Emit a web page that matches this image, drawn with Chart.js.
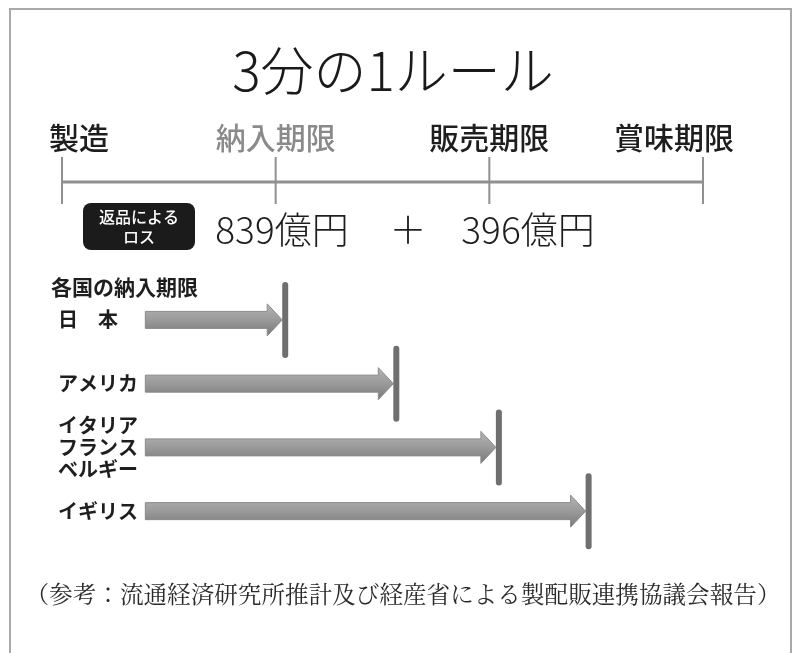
<!DOCTYPE html>
<html>
<head>
<meta charset="utf-8">
<script src="https://cdn.jsdelivr.net/npm/chart.js@4/dist/chart.umd.min.js"></script>
<style>
html,body{margin:0;padding:0;background:#fff;}
#wrap{width:800px;height:653px;position:relative;}
</style>
</head>
<body>
<div id="wrap"><canvas id="c" width="800" height="653"></canvas></div>
<script>
// ---- data ----
const title = '3分の1ルール';
const milestoneLabels = ['製造', '納入期限', '販売期限', '賞味期限'];
const milestoneValues = [0, 1, 2, 3];
const lossLabel = ['返品による', 'ロス'];
const lossAmounts = ['839億円', '396億円'];
const countryHeader = '各国の納入期限';
const countries = ['日　本', 'アメリカ', 'イタリア\nフランス\nベルギー', 'イギリス'];
const arrowStart = [0.39, 0.39, 0.39, 0.39];
const deadlines = [1.04, 1.56, 2.04, 2.46];
const footnote = '（参考：流通経済研究所推計及び経産省による製配販連携協議会報告）';

const JP = '"Noto Sans CJK JP", "Noto Sans", sans-serif';
const JPSERIF = '"Noto Serif CJK JP", "IPAMincho", serif, "Noto Sans CJK JP"';

const decor = {
  id: 'decor',
  beforeDraw(chart) {
    const ctx = chart.ctx;
    ctx.save();
    ctx.fillStyle = '#fff';
    ctx.fillRect(0, 0, chart.width, chart.height);
    ctx.strokeStyle = '#a9a9a9';
    ctx.lineWidth = 2;
    ctx.strokeRect(10, 9, 781, 700);
    ctx.restore();
  },
  afterDatasetsDraw(chart) {
    const ctx = chart.ctx;
    const xs = chart.scales.x;
    const meta = chart.getDatasetMeta(0);
    ctx.save();
    // title
    ctx.fillStyle = '#1a1a1a';
    ctx.textAlign = 'center';
    ctx.textBaseline = 'middle';
    ctx.font = '300 53px ' + JP;
    ctx.fillText(title, 393, 71);

    // timeline
    const lineY = 182;
    ctx.strokeStyle = '#909090';
    ctx.lineWidth = 3;
    ctx.beginPath();
    ctx.moveTo(xs.getPixelForValue(milestoneValues[0]), lineY);
    ctx.lineTo(xs.getPixelForValue(milestoneValues[milestoneValues.length - 1]), lineY);
    ctx.stroke();
    ctx.lineWidth = 2;
    milestoneValues.forEach((v) => {
      const px = xs.getPixelForValue(v);
      ctx.beginPath();
      ctx.moveTo(px, 157);
      ctx.lineTo(px, 204);
      ctx.stroke();
    });
    // milestone labels
    ctx.font = '500 30px ' + JP;
    milestoneValues.forEach((v, i) => {
      const px = xs.getPixelForValue(v);
      ctx.fillStyle = i === 1 ? '#8a8a8a' : '#1e1e1e';
      let cx = px;
      if (i === 0) { ctx.textAlign = 'left'; cx = px - 13; }
      else if (i === 3) { ctx.textAlign = 'right'; cx = px + 31; }
      else { ctx.textAlign = 'center'; cx = px; }
      ctx.fillText(milestoneLabels[i], cx, 138);
    });

    // loss box
    ctx.fillStyle = '#1b1b1b';
    ctx.beginPath();
    ctx.roundRect(83, 203, 112, 47, 8);
    ctx.fill();
    ctx.fillStyle = '#fff';
    ctx.textAlign = 'center';
    ctx.font = '500 16px ' + JP;
    ctx.fillText(lossLabel[0], 139, 217);
    ctx.fillText(lossLabel[1], 139, 237);

    // loss amounts
    ctx.fillStyle = '#1e1e1e';
    ctx.font = '300 37px ' + JP;
    ctx.textAlign = 'center';
    ctx.fillText(lossAmounts[0], 282, 230);
    ctx.fillText('＋', 408, 230);
    ctx.fillText(lossAmounts[1], 528, 230);

    // country header
    ctx.font = '700 21px ' + JP;
    ctx.textAlign = 'left';
    ctx.fillStyle = '#1e1e1e';
    ctx.fillText(countryHeader, 51, 287);

    // arrows & markers
    meta.data.forEach((bar, i) => {
      const y = bar.y;
      const x0 = bar.base;
      const tip = bar.x - 2;
      const headLen = 15;
      const sh = 8.5, hh = 16;
      const g = ctx.createLinearGradient(0, y - hh, 0, y + hh);
      g.addColorStop(0, '#b4b4b4');
      g.addColorStop(0.5, '#9a9a9a');
      g.addColorStop(1, '#7a7a7a');
      ctx.fillStyle = g;
      ctx.strokeStyle = '#8a8a8a';
      ctx.lineWidth = 1;
      ctx.beginPath();
      ctx.moveTo(x0, y - sh);
      ctx.lineTo(tip - headLen, y - sh);
      ctx.lineTo(tip - headLen, y - hh);
      ctx.lineTo(tip, y);
      ctx.lineTo(tip - headLen, y + hh);
      ctx.lineTo(tip - headLen, y + sh);
      ctx.lineTo(x0, y + sh);
      ctx.closePath();
      ctx.fill();
      ctx.stroke();
      // marker
      ctx.strokeStyle = '#6f6f6f';
      ctx.lineWidth = 6;
      ctx.lineCap = 'round';
      ctx.beginPath();
      ctx.moveTo(bar.x + 1, y - 35);
      ctx.lineTo(bar.x + 1, y + 35);
      ctx.stroke();
      ctx.lineCap = 'butt';

      // country label
      ctx.fillStyle = '#1e1e1e';
      ctx.font = '700 20px ' + JP;
      ctx.textAlign = 'left';
      const lines = countries[i].split('\n');
      const lh = 22;
      lines.forEach((t, k) => {
        ctx.fillText(t, 58, y + (k - (lines.length - 1) / 2) * lh);
      });
    });

    // footnote
    ctx.fillStyle = '#2a2a2a';
    ctx.font = '400 23.6px ' + JPSERIF;
    ctx.textAlign = 'center';
    ctx.fillText(footnote, 403, 594);
    ctx.restore();
  }
};

new Chart(document.getElementById('c'), {
  type: 'bar',
  data: {
    labels: countries,
    datasets: [{
      data: deadlines.map((d, i) => [arrowStart[i], d]),
      backgroundColor: 'rgba(0,0,0,0)',
      borderWidth: 0,
      barThickness: 16
    }]
  },
  options: {
    indexAxis: 'y',
    responsive: false,
    animation: false,
    devicePixelRatio: 1,
    layout: { padding: { left: 62, right: 97, top: 288, bottom: 110 } },
    scales: {
      x: { type: 'linear', min: 0, max: 3, display: false },
      y: { display: false, offset: true }
    },
    plugins: { legend: { display: false }, tooltip: { enabled: false } }
  },
  plugins: [decor]
});
</script>
</body>
</html>
